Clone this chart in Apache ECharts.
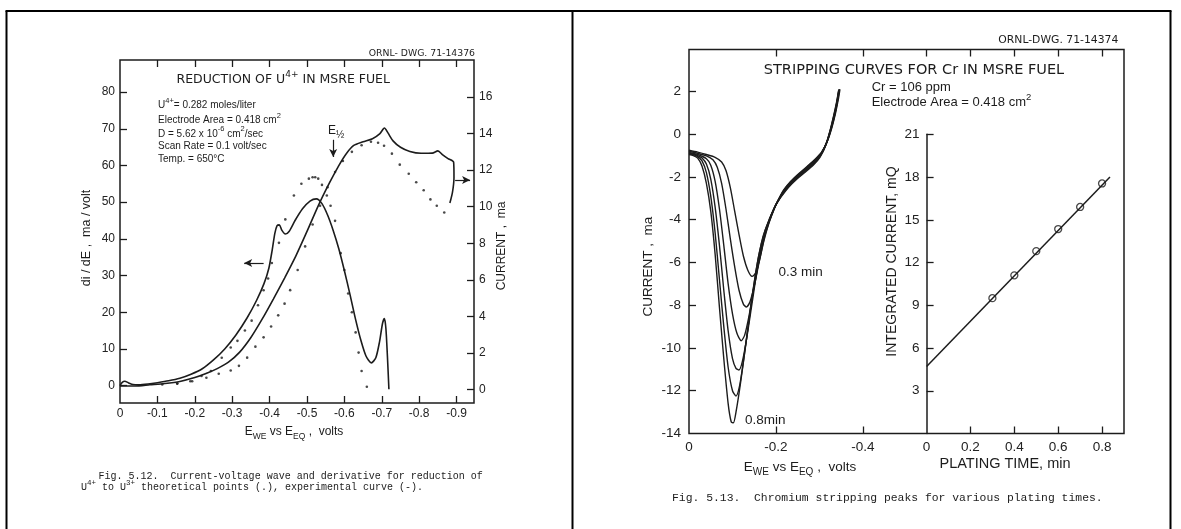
<!DOCTYPE html>
<html>
<head>
<meta charset="utf-8">
<title>MSRE fuel voltammetry</title>
<script src="https://cdn.jsdelivr.net/npm/echarts@6.0.0/dist/echarts.min.js"></script>
<style>
  html, body { margin: 0; padding: 0; background: #fff; }
  #chart { width: 1181px; height: 529px; }
</style>
</head>
<body>
<div id="chart"></div>
<script>
// ---- Fig. 5.12 : reduction of U4+ (x = E_WE vs E_EQ, volts) ----
// experimental di/dE (left axis, ma/volt)
const didEExp = [[0,0],[-0.006,0.9],[-0.013,1.2],[-0.022,0.8],[-0.035,0.3],[-0.05,0.25],[-0.075,0.45],[-0.1,0.8],
  [-0.13,1.3],[-0.16,2.0],[-0.19,3.1],[-0.22,4.6],[-0.25,7.0],[-0.28,10.0],[-0.31,13.8],[-0.34,18.5],[-0.365,23.2],
  [-0.385,27.8],[-0.398,32.0],[-0.407,37.0],[-0.414,41.5],[-0.42,43.6],[-0.426,43.8],[-0.433,42.3],[-0.442,41.3],
  [-0.452,42.0],[-0.468,45.0],[-0.488,48.2],[-0.508,50.3],[-0.525,50.9],[-0.54,49.6],[-0.555,46.5],[-0.57,42.3],
  [-0.585,37.3],[-0.6,31.3],[-0.615,24.8],[-0.63,18.0],[-0.645,12.0],[-0.658,8.0],[-0.672,6.2],[-0.684,7.6],
  [-0.694,12.0],[-0.702,17.0],[-0.707,18.3],[-0.711,15.5],[-0.715,8.0],[-0.719,-1.0]];
// experimental current (right axis, ma)
const currentExp = [[0,0.2],[-0.04,0.2],[-0.08,0.27],[-0.12,0.34],[-0.16,0.45],[-0.2,0.66],[-0.23,0.88],[-0.26,1.15],
  [-0.29,1.5],[-0.32,2.05],[-0.35,2.85],[-0.38,3.85],[-0.41,4.95],[-0.44,6.1],[-0.47,7.3],[-0.5,8.65],[-0.53,10.05],
  [-0.56,11.3],[-0.585,12.25],[-0.605,12.9],[-0.625,13.35],[-0.65,13.55],[-0.675,13.72],[-0.695,14.0],[-0.707,14.3],
  [-0.716,14.05],[-0.73,13.6],[-0.75,13.25],[-0.775,13.02],[-0.805,12.92],[-0.835,12.93],[-0.85,13.05],[-0.862,12.85],
  [-0.877,12.63],[-0.892,12.44],[-0.893,11.6],[-0.889,10.8],[-0.882,10.2]];
// theoretical points
const didETheory = [[-0.113,0.3],[-0.153,0.55],[-0.188,1.2],[-0.218,2.6],[-0.243,4.0],[-0.272,7.6],[-0.296,10.4],
  [-0.314,12.2],[-0.334,15.0],[-0.352,17.7],[-0.369,21.9],[-0.384,26.0],[-0.396,29.2],[-0.406,33.4],[-0.425,38.9],
  [-0.442,45.3],[-0.465,51.8],[-0.485,55.0],[-0.505,56.4],[-0.515,56.8],[-0.522,56.8],[-0.53,56.4],[-0.54,54.7],
  [-0.553,51.8],[-0.563,49.0],[-0.575,44.9],[-0.59,36.1],[-0.6,31.5],[-0.61,25.1],[-0.62,20.0],[-0.63,14.5],
  [-0.638,9.0],[-0.646,4.0],[-0.66,-0.3]];
const currentTheory = [[-0.153,0.33],[-0.193,0.46],[-0.231,0.65],[-0.264,0.87],[-0.296,1.05],[-0.318,1.3],
  [-0.34,1.75],[-0.362,2.35],[-0.384,2.86],[-0.404,3.45],[-0.423,4.06],[-0.44,4.7],[-0.455,5.44],[-0.475,6.54],
  [-0.495,7.83],[-0.515,9.03],[-0.535,10.05],[-0.555,11.06],[-0.575,11.9],[-0.596,12.5],[-0.62,13.0],[-0.646,13.36],
  [-0.671,13.55],[-0.69,13.5],[-0.706,13.33],[-0.727,12.9],[-0.748,12.3],[-0.772,11.8],[-0.792,11.34],[-0.812,10.9],
  [-0.83,10.4],[-0.847,10.05],[-0.867,9.68]];
const leftXLabels = [0,-0.1,-0.2,-0.3,-0.4,-0.5,-0.6,-0.7,-0.8,-0.9];
const leftXTicks = [-0.1,-0.2,-0.3,-0.4,-0.5,-0.6,-0.7,-0.8,-0.9];
const didETicks = [0,10,20,30,40,50,60,70,80];
const currentTicks = [0,2,4,6,8,10,12,14,16];
// arrows [from, to] in data units
const arrowDidE = [[-0.384,33.4],[-0.332,33.4]];
const arrowHalf = [[-0.57,67.0],[-0.57,62.3]];
const arrowCurrent = [[-0.896,11.46],[-0.936,11.46]];

// ---- Fig. 5.13 : Cr stripping curves (x = volts, y = ma) ----
const strip03 = [[0,-0.75],[-0.02,-0.84],[-0.04,-0.95],[-0.06,-1.08],[-0.075,-1.3],[-0.085,-1.7],[-0.095,-2.5],
  [-0.105,-3.6],[-0.115,-4.7],[-0.125,-5.7],[-0.135,-6.35],[-0.145,-6.65],[-0.153,-6.5],[-0.162,-5.9],[-0.172,-5.0],
  [-0.183,-4.2],[-0.193,-3.65],[-0.2,-3.3],[-0.207,-3.0],[-0.218,-2.6],[-0.234,-2.2],[-0.252,-1.85],[-0.272,-1.5],
  [-0.291,-1.15],[-0.306,-0.8],[-0.319,-0.28],[-0.329,0.35],[-0.337,1.0],[-0.343,1.6],[-0.347,2.1]];
const strip04 = [[0,-0.8],[-0.02,-0.9],[-0.04,-1.02],[-0.055,-1.2],[-0.065,-1.55],[-0.075,-2.3],[-0.085,-3.5],
  [-0.095,-4.9],[-0.105,-6.2],[-0.115,-7.3],[-0.125,-7.95],[-0.132,-8.08],[-0.14,-7.85],[-0.15,-7.1],[-0.162,-5.9],
  [-0.175,-4.7],[-0.188,-3.9],[-0.198,-3.38],[-0.206,-3.05],[-0.217,-2.66],[-0.233,-2.25],[-0.251,-1.9],[-0.271,-1.55],
  [-0.29,-1.2],[-0.305,-0.85],[-0.318,-0.32],[-0.328,0.32],[-0.336,0.97],[-0.342,1.6],[-0.346,2.1]];
const strip05 = [[0,-0.85],[-0.02,-0.95],[-0.04,-1.15],[-0.05,-1.45],[-0.06,-2.2],[-0.07,-3.5],[-0.08,-5.2],
  [-0.09,-7.0],[-0.1,-8.4],[-0.11,-9.3],[-0.12,-9.66],[-0.128,-9.4],[-0.138,-8.5],[-0.15,-7.1],[-0.162,-5.8],
  [-0.175,-4.6],[-0.188,-3.85],[-0.197,-3.4],[-0.205,-3.1],[-0.216,-2.72],[-0.232,-2.3],[-0.25,-1.95],[-0.27,-1.6],
  [-0.289,-1.26],[-0.304,-0.9],[-0.317,-0.36],[-0.327,0.28],[-0.335,0.93],[-0.341,1.58],[-0.345,2.1]];
const strip06 = [[0,-0.88],[-0.02,-1.0],[-0.03,-1.12],[-0.04,-1.4],[-0.05,-2.1],[-0.06,-3.4],[-0.07,-5.2],
  [-0.08,-7.3],[-0.09,-9.2],[-0.1,-10.5],[-0.108,-10.95],[-0.115,-11.03],[-0.123,-10.6],[-0.133,-9.5],[-0.145,-7.9],
  [-0.158,-6.2],[-0.172,-4.8],[-0.186,-3.95],[-0.196,-3.45],[-0.204,-3.15],[-0.215,-2.78],[-0.231,-2.36],[-0.249,-2.0],
  [-0.269,-1.66],[-0.288,-1.32],[-0.303,-0.96],[-0.316,-0.42],[-0.326,0.24],[-0.334,0.9],[-0.341,1.55],[-0.345,2.08]];
const strip07 = [[0,-0.92],[-0.01,-0.96],[-0.02,-1.05],[-0.03,-1.25],[-0.04,-1.8],[-0.05,-2.9],[-0.06,-4.6],
  [-0.07,-6.8],[-0.08,-9.0],[-0.09,-10.9],[-0.1,-12.0],[-0.108,-12.25],[-0.116,-11.8],[-0.126,-10.5],[-0.14,-8.4],
  [-0.155,-6.3],[-0.17,-4.8],[-0.185,-3.95],[-0.195,-3.5],[-0.203,-3.2],[-0.214,-2.84],[-0.23,-2.42],[-0.248,-2.06],
  [-0.268,-1.72],[-0.287,-1.38],[-0.302,-1.02],[-0.315,-0.48],[-0.325,0.2],[-0.333,0.86],[-0.34,1.52],[-0.344,2.05]];
const strip08 = [[0,-0.95],[-0.01,-1.0],[-0.02,-1.12],[-0.03,-1.5],[-0.04,-2.3],[-0.05,-3.6],[-0.06,-5.6],
  [-0.07,-8.1],[-0.08,-10.5],[-0.09,-12.6],[-0.097,-13.45],[-0.102,-13.5],[-0.108,-13.0],[-0.118,-11.7],[-0.13,-9.9],
  [-0.145,-7.6],[-0.16,-5.7],[-0.175,-4.5],[-0.19,-3.75],[-0.2,-3.3],[-0.213,-2.9],[-0.229,-2.48],[-0.247,-2.12],
  [-0.267,-1.78],[-0.286,-1.44],[-0.301,-1.08],[-0.314,-0.54],[-0.324,0.15],[-0.332,0.82],[-0.339,1.48],[-0.344,2.02]];
const stripXLabels = [0,-0.2,-0.4];
const stripXTicks = [-0.2,-0.4];
const stripYLabels = [2,0,-2,-4,-6,-8,-10,-12,-14];
const stripYTicks = [2,0,-2,-4,-6,-8,-10,-12];
// inset: integrated current vs plating time
const platingTime = [0.3,0.4,0.5,0.6,0.7,0.8];
const integratedCurrent = [9.5,11.1,12.8,14.35,15.9,17.55];
const fitTime = [0,0.836];
const fitCurrent = [4.7,18.0];
const insetXLabels = [0,0.2,0.4,0.6,0.8];
const insetXTicks = [0.2,0.4,0.6,0.8];
const insetYTicks = [3,6,9,12,15,18,21];

const INK = '#1c1c1c';
const SANS = '"Liberation Sans", Arial, sans-serif';
const WIDE = '"DejaVu Sans", sans-serif';
const MONO = '"Liberation Mono", monospace';

function pairs(xs, ys) { return xs.map((x, i) => [x, ys[i]]); }

function xAx(grid, min, max, inverse, pos, ticks, labels, extra) {
  return Object.assign({
    type: 'value', gridIndex: grid, min: min, max: max, inverse: inverse, position: pos,
    axisLine: { show: false, onZero: false },
    axisTick: { show: true, inside: true, length: 7, customValues: ticks, lineStyle: { color: INK, width: 1.3 } },
    axisLabel: labels ? { show: true, customValues: labels, color: '#222', fontFamily: SANS, fontSize: 12, margin: 5 }
                      : { show: false },
    splitLine: { show: false }
  }, extra || {});
}
function yAx(grid, min, max, pos, ticks, labels, extra) {
  return Object.assign({
    type: 'value', gridIndex: grid, min: min, max: max, position: pos,
    axisLine: { show: false, onZero: false },
    axisTick: { show: true, inside: true, length: 7, customValues: ticks, lineStyle: { color: INK, width: 1.3 } },
    axisLabel: { show: true, customValues: labels, color: '#222', fontFamily: SANS, fontSize: 12, margin: 5 },
    splitLine: { show: false }
  }, extra || {});
}
function curve(xi, yi, data, width) {
  return { type: 'line', xAxisIndex: xi, yAxisIndex: yi, data: data, smooth: 0.25, showSymbol: false,
    symbol: 'none', lineStyle: { color: INK, width: width || 1.5 }, silent: true };
}
function dots(xi, yi, data) {
  return { type: 'scatter', xAxisIndex: xi, yAxisIndex: yi, data: data, symbolSize: 2.6,
    itemStyle: { color: INK }, silent: true };
}
function arrows(list) {
  return { silent: true, animation: false, symbol: ['none', 'arrow'], symbolSize: [6, 8], label: { show: false },
    lineStyle: { color: INK, width: 1.2, type: 'solid' },
    data: list.map(a => [{ coord: a[0] }, { coord: a[1] }]) };
}
function text(x, y, str, font, size, opts) {
  return Object.assign({
    type: 'text', x: x, y: y, silent: true,
    style: Object.assign({ text: str, fill: INK, fontFamily: font, fontSize: size,
      textAlign: 'left', textVerticalAlign: 'middle', align: 'left', verticalAlign: 'middle' }, (opts && opts.style) || {})
  }, (opts && opts.el) || {});
}
function vline(x, y1, y2) {
  return { type: 'line', silent: true, shape: { x1: x, y1: y1, x2: x, y2: y2 }, style: { stroke: '#000', lineWidth: 2 } };
}
// rich styles: m = main, s = subscript, p = superscript
function rich(family, main, small) {
  return {
    m: { fontFamily: family, fontSize: main, lineHeight: main + 7, fill: INK },
    s: { fontFamily: family, fontSize: small, lineHeight: small + 1, verticalAlign: 'bottom', fill: INK },
    p: { fontFamily: family, fontSize: small, lineHeight: small + 1, verticalAlign: 'top', fill: INK }
  };
}

const chart = echarts.init(document.getElementById('chart'), null, { renderer: 'canvas' });

chart.setOption({
  backgroundColor: '#fff',
  animation: false,
  grid: [
    { left: 120, top: 60, width: 354, height: 343, show: true, borderColor: INK, borderWidth: 1.5 },
    { left: 689, top: 49.5, width: 435, height: 384, show: true, borderColor: INK, borderWidth: 1.5 },
    { left: 926.6, top: 134.3, width: 197.4, height: 299.2, show: false }
  ],
  xAxis: [
    xAx(0, -0.9465, 0, true, 'bottom', leftXTicks, leftXLabels),
    xAx(0, -0.9465, 0, true, 'top', leftXTicks, null),
    xAx(1, -1.0, 0, true, 'bottom', stripXTicks, stripXLabels,
      { axisLabel: { customValues: stripXLabels, color: '#222', fontFamily: SANS, fontSize: 13.5, margin: 7 } }),
    xAx(1, -1.0, 0, true, 'top', stripXTicks, null),
    xAx(2, 0, 0.9, false, 'bottom', insetXTicks, insetXLabels,
      { axisLabel: { customValues: insetXLabels, color: '#222', fontFamily: SANS, fontSize: 13.5, margin: 7 } }),
    xAx(2, 0, 0.9, false, 'top', insetXLabels, null, { offset: 84.8 })
  ],
  yAxis: [
    yAx(0, -4.74, 88.74, 'left', didETicks, didETicks),
    yAx(0, -0.73, 18.02, 'right', currentTicks, currentTicks, {
      axisLabel: { customValues: currentTicks, color: '#222', fontFamily: SANS, fontSize: 12, margin: 5 } }),
    yAx(1, -14, 3.96, 'left', stripYTicks, stripYLabels, {
      axisLabel: { customValues: stripYLabels, color: '#222', fontFamily: SANS, fontSize: 13.5, margin: 8 } }),
    yAx(2, 0, 21, 'left', insetYTicks, insetYTicks, {
      axisLine: { show: true, onZero: false, lineStyle: { color: INK, width: 1.5 } },
      axisLabel: { customValues: insetYTicks, color: '#222', fontFamily: SANS, fontSize: 13.5, margin: 7 } })
  ],
  series: [
    Object.assign(curve(0, 0, didEExp, 1.6), { markLine: arrows([arrowDidE, arrowHalf]) }),
    Object.assign(curve(0, 1, currentExp, 1.6), { markLine: arrows([arrowCurrent]) }),
    dots(0, 0, didETheory),
    dots(0, 1, currentTheory),
    curve(2, 2, strip03, 1.4),
    curve(2, 2, strip04, 1.4),
    curve(2, 2, strip05, 1.4),
    curve(2, 2, strip06, 1.4),
    curve(2, 2, strip07, 1.4),
    curve(2, 2, strip08, 1.4),
    { type: 'line', xAxisIndex: 4, yAxisIndex: 3, data: pairs(fitTime, fitCurrent), symbol: 'none',
      lineStyle: { color: INK, width: 1.5 }, silent: true },
    { type: 'scatter', xAxisIndex: 4, yAxisIndex: 3, data: pairs(platingTime, integratedCurrent),
      symbol: 'circle', symbolSize: 7, itemStyle: { color: '#fff', borderColor: INK, borderWidth: 1.3 }, silent: true }
  ],
  graphic: [
    // panel frame
    { type: 'line', silent: true, shape: { x1: 5.5, y1: 11, x2: 1171.5, y2: 11 }, style: { stroke: '#000', lineWidth: 2 } },
    vline(6.5, 11, 529), vline(572.5, 11, 529), vline(1170.5, 11, 529),

    // left panel texts
    text(475, 53.2, 'ORNL- DWG. 71-14376', WIDE, 9.3, { style: { textAlign: 'right', align: 'right' } }),
    text(176.5, 80, '{m|REDUCTION OF U}{p|4+}{m| IN MSRE FUEL}', WIDE, 12.5, { style: { rich: rich(WIDE, 12.5, 9) } }),
    text(158, 105.5, '{m|U}{p|4+}{m|= 0.282 moles/liter}', SANS, 10, { style: { rich: rich(SANS, 10, 7.5) } }),
    text(158, 120.5, '{m|Electrode Area = 0.418 cm}{p|2}', SANS, 10, { style: { rich: rich(SANS, 10, 7.5) } }),
    text(158, 133.8, '{m|D = 5.62 x 10}{p|-6}{m| cm}{p|2}{m|/sec}', SANS, 10, { style: { rich: rich(SANS, 10, 7.5) } }),
    text(158, 146.7, 'Scan Rate = 0.1 volt/sec', SANS, 10),
    text(158, 159, 'Temp. = 650\u00B0C', SANS, 10),
    text(328, 131, '{m|E}{s|\u00BD}', SANS, 12, { style: { rich: rich(SANS, 12, 10) } }),
    text(87, 238, 'di / dE ,  ma / volt', SANS, 12.5,
      { style: { textAlign: 'center', align: 'center' }, el: { rotation: Math.PI / 2 } }),
    text(502, 246, 'CURRENT ,  ma', SANS, 12,
      { style: { textAlign: 'center', align: 'center' }, el: { rotation: Math.PI / 2 } }),
    text(294, 432, '{m|E}{s|WE}{m| vs E}{s|EQ}{m| ,  volts}', SANS, 12,
      { style: { textAlign: 'center', align: 'center', rich: rich(SANS, 12, 8.5) } }),
    text(98.6, 476.7, 'Fig. 5.12.  Current-voltage wave and derivative for reduction of', MONO, 10),
    text(81, 487.5, '{m|U}{p|4+}{m| to U}{p|3+}{m| theoretical points (.), experimental curve (-).}', MONO, 10,
      { style: { rich: rich(MONO, 10, 7.5) } }),

    // right panel texts
    text(1118.3, 40, 'ORNL-DWG. 71-14374', WIDE, 10.8, { style: { textAlign: 'right', align: 'right' } }),
    text(914, 70, 'STRIPPING CURVES FOR Cr IN MSRE FUEL', WIDE, 14.5, { style: { textAlign: 'center', align: 'center' } }),
    text(871.7, 87, 'Cr = 106 ppm', SANS, 13),
    text(871.7, 102, '{m|Electrode Area = 0.418 cm}{p|2}', SANS, 13, { style: { rich: rich(SANS, 13, 9.5) } }),
    text(778.5, 272.6, '0.3 min', SANS, 13.5),
    text(745, 420.7, '0.8min', SANS, 13.5),
    text(648.4, 266.5, 'CURRENT ,  ma', SANS, 13.5,
      { style: { textAlign: 'center', align: 'center' }, el: { rotation: Math.PI / 2 } }),
    text(892, 261.5, 'INTEGRATED CURRENT, mQ', SANS, 14,
      { style: { textAlign: 'center', align: 'center' }, el: { rotation: Math.PI / 2 } }),
    text(800, 467, '{m|E}{s|WE}{m| vs E}{s|EQ}{m| ,  volts}', SANS, 13.5,
      { style: { textAlign: 'center', align: 'center', rich: rich(SANS, 13.5, 10) } }),
    text(1005, 464, 'PLATING TIME, min', SANS, 14.5, { style: { textAlign: 'center', align: 'center' } }),
    text(672, 497.6, 'Fig. 5.13.  Chromium stripping peaks for various plating times.', MONO, 11.4)
  ]
});

window.addEventListener('resize', () => chart.resize());
</script>
</body>
</html>
